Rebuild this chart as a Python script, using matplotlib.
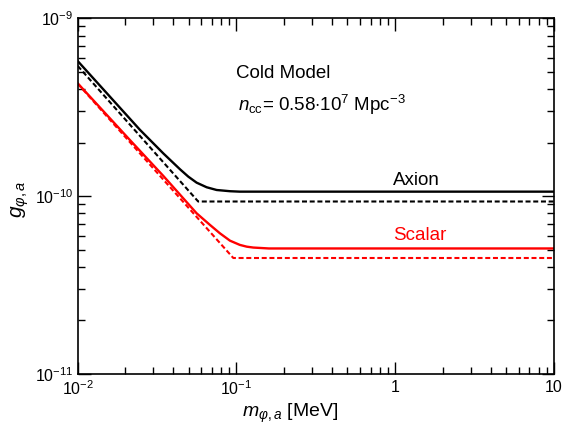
import numpy as np
import matplotlib
matplotlib.use("Agg")
import matplotlib.pyplot as plt
from matplotlib.ticker import LogLocator, FixedLocator, FixedFormatter, NullFormatter

plt.rcParams['font.family'] = ['Liberation Sans', 'DejaVu Sans']
plt.rcParams['mathtext.fontset'] = 'custom'
plt.rcParams['mathtext.rm'] = 'Liberation Sans'
plt.rcParams['mathtext.it'] = 'Liberation Sans:italic'
plt.rcParams['mathtext.bf'] = 'Liberation Sans:bold'

# Data
axion_m = [0.01, 0.02466, 0.0346, 0.0441, 0.0497, 0.0561, 0.0649, 0.0750, 0.0910, 0.105, 0.15, 10]
axion_g = [5.75e-10, 2.36e-10, 1.74e-10, 1.416e-10, 1.288e-10, 1.191e-10, 1.122e-10, 1.083e-10,
           1.066e-10, 1.06e-10, 1.06e-10, 1.06e-10]
axion_d_m = [0.01, 0.0574, 10]
axion_d_g = [5.4e-10, 9.33e-11, 9.33e-11]
scalar_m = [0.01, 0.0213, 0.0346, 0.0561, 0.0681, 0.0787, 0.0910, 0.105, 0.116, 0.1276, 0.16, 10]
scalar_g = [4.31e-10, 2.07e-10, 1.30e-10, 8.01e-11, 6.89e-11, 6.18e-11, 5.62e-11, 5.32e-11,
            5.20e-11, 5.14e-11, 5.08e-11, 5.08e-11]
scalar_d_m = [0.01, 0.0955, 10]
scalar_d_g = [4.29e-10, 4.49e-11, 4.49e-11]

x_ticks = [0.01, 0.1, 1, 10]
x_labels = ['$10^{-2}$', '$10^{-1}$', '1', '10']
y_ticks = [1e-11, 1e-10, 1e-9]
y_labels = ['$10^{-11}$', '$10^{-10}$', '$10^{-9}$']

fig = plt.figure(figsize=(5.69, 4.24), dpi=100)
L, R, T, B = 77.7, 554, 18.3, 374
ax = fig.add_axes([L/569, 1-B/424, (R-L)/569, (B-T)/424])

ax.plot(axion_m, axion_g, color='black', lw=1.7, solid_joinstyle='round')
ax.plot(axion_d_m, axion_d_g, color='black', lw=1.5, ls=(0, (2.4, 1.3)))
ax.plot(scalar_m, scalar_g, color='red', lw=1.7, solid_joinstyle='round')
ax.plot(scalar_d_m, scalar_d_g, color='red', lw=1.5, ls=(0, (2.4, 1.3)))

ax.set_xscale('log')
ax.set_yscale('log')
ax.set_xlim(0.01, 10)
ax.set_ylim(1e-11, 1e-9)

ax.xaxis.set_major_locator(FixedLocator(x_ticks))
ax.xaxis.set_major_formatter(FixedFormatter(x_labels))
ax.yaxis.set_major_locator(FixedLocator(y_ticks))
ax.yaxis.set_major_formatter(FixedFormatter(y_labels))
ax.xaxis.set_minor_locator(LogLocator(base=10, subs=np.arange(2, 10), numticks=20))
ax.yaxis.set_minor_locator(LogLocator(base=10, subs=np.arange(2, 10), numticks=20))
ax.xaxis.set_minor_formatter(NullFormatter())
ax.yaxis.set_minor_formatter(NullFormatter())

ax.tick_params(which='both', direction='in', top=True, right=True, labelsize=11.5, width=1.0)
ax.tick_params(axis='y', which='both', pad=3)
ax.tick_params(axis='x', which='both', pad=4)
ax.tick_params(which='major', length=9)
ax.tick_params(which='minor', length=5.3)
for s in ax.spines.values():
    s.set_linewidth(1.2)

ax.set_xlabel(r'$m_{\varphi,a}$ [MeV]', fontsize=14)
ax.xaxis.set_label_coords(0.446, -0.077)
ax.set_ylabel(r'$g_{\varphi,a}$', fontsize=15)
ax.yaxis.set_label_coords(-0.097, 0.49)

ax.text(0.432, 0.831, 'Cold Model', transform=ax.transAxes, ha='center', va='baseline', fontsize=13.5)
ax.text(0.337, 0.738, r'$n_{\rm cc}$= 0.58$\cdot$10$^{7}$ Mpc$^{-3}$', transform=ax.transAxes,
        ha='left', va='baseline', fontsize=13.5)
ax.text(0.712, 0.531, 'Axion', transform=ax.transAxes, ha='center', va='baseline', fontsize=13.5, color='black')
ax.text(0.718, 0.377, 'Scalar', transform=ax.transAxes, ha='center', va='baseline', fontsize=13.5, color='red')

fig.savefig('out.png', dpi=100)
